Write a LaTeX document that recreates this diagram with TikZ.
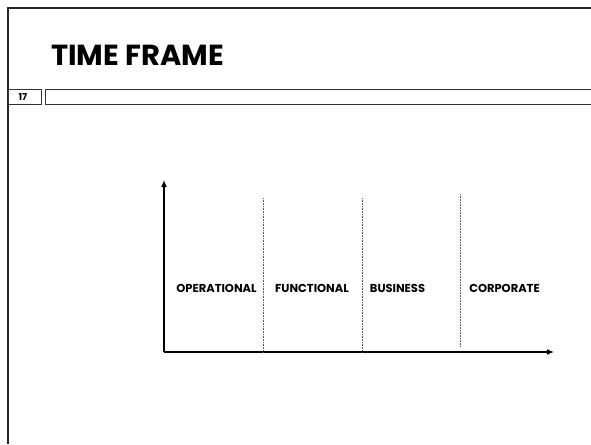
\documentclass[tikz,border=0pt]{standalone}
\usepackage{fontspec}
\setmainfont{Poppins}
\usetikzlibrary{arrows.meta}
\begin{document}
\begin{tikzpicture}[x=1pt,y=-1pt,
  lbl/.style={font=\bfseries\fontsize{11.5}{13}\selectfont, inner sep=0pt, anchor=center},
  axis/.style={line width=2.2pt, -{Latex[length=7pt,width=6pt]}},
  sep/.style={gray!70!black, line width=0.7pt, dash pattern=on 1pt off 0.6pt},
  frameline/.style={line width=2pt, black!85},
  boxline/.style={line width=1pt, black!80}]
\useasboundingbox (0,0) rectangle (591,444);
% frame
\draw[frameline] (8,444) -- (8,8) -- (595,8);
% title
\node[anchor=west, inner sep=0pt, font=\bfseries\fontsize{29}{32}\selectfont] (title) at (51,55) {TIME FRAME};
% number box and bar
\draw[boxline] (8,89) rectangle (41,104);
\node[font=\bfseries\fontsize{9.5}{10}\selectfont, inner sep=0pt] (num) at (23,97) {17};
\draw[boxline] (45,89) rectangle (600,104);
% axes
\coordinate (o) at (164,352);
\coordinate (ytip) at (164,180);
\coordinate (xtip) at (554,352);
\draw[axis] (o) -- (ytip);
\draw[axis] (o) -- (xtip);
% separators
\coordinate (s1t) at (263,198); \coordinate (s1b) at (263,352);
\coordinate (s2t) at (362,198); \coordinate (s2b) at (362,352);
\coordinate (s3t) at (460,194); \coordinate (s3b) at (460,347);
\draw[sep] (s1t) -- (s1b);
\draw[sep] (s2t) -- (s2b);
\draw[sep] (s3t) -- (s3b);
% labels
\node[lbl] (op) at (216.5,288) {OPERATIONAL};
\node[lbl] (fn) at (312,288) {FUNCTIONAL};
\node[lbl] (bs) at (397.5,288) {BUSINESS};
\node[lbl] (cp) at (504.5,288) {CORPORATE};
\end{tikzpicture}
\end{document}
